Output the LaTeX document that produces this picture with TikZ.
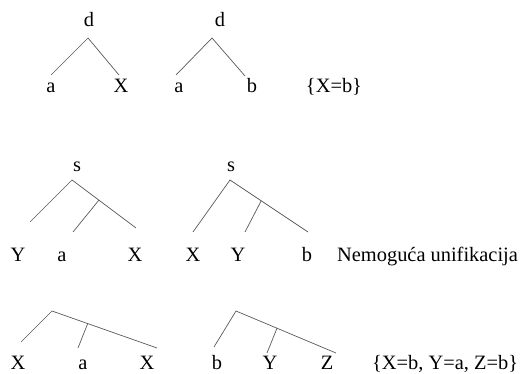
\documentclass[tikz,border=0pt]{standalone}
\usepackage{fontspec}
\setmainfont{Liberation Serif}
\usetikzlibrary{positioning,calc}

\tikzset{
  lbl/.style={anchor=base, inner sep=0pt, font=\fontsize{20.4}{24}\selectfont},
  treeline/.style={draw=black!65, line width=0.7pt}
}

\begin{document}
\begin{tikzpicture}[x=1pt, y=-1pt]
\useasboundingbox (0,0) rectangle (528,374);

% row 1
\node[lbl] (d1) at (89,27) {d};
\node[lbl] (a1) at (51,93) {a};
\node[lbl] (x1) at (121,93) {X};
\coordinate (t1) at (88,38);
\coordinate (t1l) at (51,75);
\coordinate (t1r) at (119,75);
\draw[treeline] (t1l) -- (t1) -- (t1r);

\node[lbl] (d2) at (220,27) {d};
\node[lbl] (a2) at (179,93) {a};
\node[lbl] (b2) at (252,93) {b};
\coordinate (t2) at (212,38);
\coordinate (t2l) at (176,75);
\coordinate (t2r) at (245,76);
\draw[treeline] (t2l) -- (t2) -- (t2r);

\node[lbl] (sub1) at (334,93) {\{X=b\}};

% row 2
\node[lbl] (s1) at (77,172) {s};
\node[lbl] (y3) at (18,262) {Y};
\node[lbl] (a3) at (62,262) {a};
\node[lbl] (x3) at (135,262) {X};
\coordinate (t3) at (72,180);
\coordinate (t3l) at (30,222);
\coordinate (t3r) at (136,228);
\coordinate (t3m) at ($(t3)!0.42!(t3r)$);
\coordinate (t3i) at (73,232);
\draw[treeline] (t3l) -- (t3) -- (t3r);
\draw[treeline] (t3m) -- (t3i);

\node[lbl] (s2) at (231,172) {s};
\node[lbl] (x4) at (193,262) {X};
\node[lbl] (y4) at (238,262) {Y};
\node[lbl] (b4) at (307,262) {b};
\coordinate (t4) at (230,180);
\coordinate (t4l) at (193,232);
\coordinate (t4r) at (308,232);
\coordinate (t4m) at ($(t4)!0.40!(t4r)$);
\coordinate (t4i) at (245,232);
\draw[treeline] (t4l) -- (t4) -- (t4r);
\draw[treeline] (t4m) -- (t4i);

\node[lbl, anchor=base west] (fail) at (337,262) {Nemoguća unifikacija};

% row 3
\node[lbl] (x5) at (18,370) {X};
\node[lbl] (a5) at (83,370) {a};
\node[lbl] (x6) at (147,370) {X};
\coordinate (t5) at (52,311);
\coordinate (t5l) at (21,342);
\coordinate (t5r) at (157,348);
\coordinate (t5m) at ($(t5)!0.34!(t5r)$);
\coordinate (t5i) at (78,348);
\draw[treeline] (t5l) -- (t5) -- (t5r);
\draw[treeline] (t5m) -- (t5i);

\node[lbl] (b6) at (217,370) {b};
\node[lbl] (y6) at (270,370) {Y};
\node[lbl] (z6) at (327,370) {Z};
\coordinate (t6) at (236,311);
\coordinate (t6l) at (214,347);
\coordinate (t6r) at (336,353);
\coordinate (t6m) at ($(t6)!0.41!(t6r)$);
\coordinate (t6i) at (267,353);
\draw[treeline] (t6l) -- (t6) -- (t6r);
\draw[treeline] (t6m) -- (t6i);

\node[lbl, anchor=base west] (sub3) at (372,370) {\{X=b, Y=a, Z=b\}};

\end{tikzpicture}
\end{document}
